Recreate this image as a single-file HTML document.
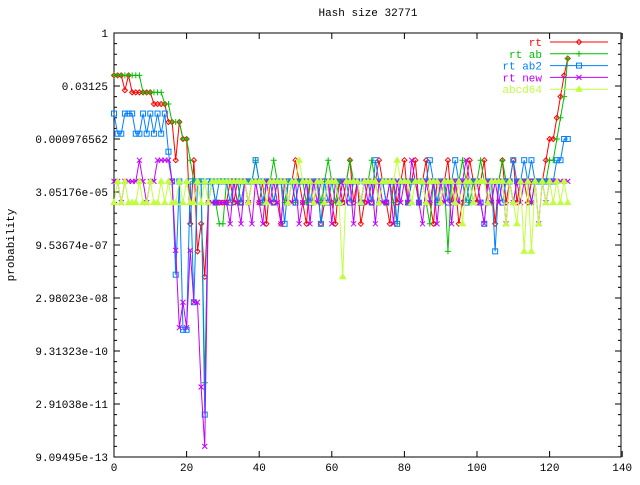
<!DOCTYPE html>
<html><head><meta charset="utf-8"><style>
body{margin:0;background:#fff}
svg text{font-family:"Liberation Mono","DejaVu Sans Mono",monospace;font-size:11px}
</style></head><body>
<svg id="chart" width="640" height="480" xmlns="http://www.w3.org/2000/svg">
<text x="368" y="16" text-anchor="middle">Hash size 32771</text>
<text x="0" y="0" text-anchor="middle" transform="translate(14,245) rotate(-90)">probability</text>
<g id="axes"></g><g id="series"></g><g id="legend"></g>
</svg>
<script>
const xTicks=[0,20,40,60,80,100,120,140];
const yTickExp=[0,-5,-10,-15,-20,-25,-30,-35,-40];
const yTickLabels=["1","0.03125","0.000976562","3.05176e-05","9.53674e-07","2.98023e-08","9.31323e-10","2.91038e-11","9.09495e-13"];
const seriesNames=["rt","rt ab","rt ab2","rt new","abcd64"];
const rtVals=[-4,-4,-4,-5.4,-4,-5.6,-5.6,-5.6,-5.6,-5.6,-5.6,-6.7,-6.7,-6.7,-6.7,-8.4,-8.4,-12,-8.4,-10,-10,-18,-12,-20.6,-18,-23,-16,-14,-16,-16,-16,-16,-14,-16,-14,-16,-14,-16,-14,-14,-16,-14,-18,-14,-16,-14,-18,-14,-16,-14,-12,-14,-16,-18,-14,-16,-14,-18,-16,-14,-16,-18,-14,-16,-14,-12,-16,-14,-18,-16,-14,-16,-14,-12,-14,-16,-18,-14,-16,-14,-12,-16,-14,-12,-16,-14,-12,-16,-18,-14,-16,-14,-12,-16,-14,-18,-16,-14,-12,-14,-16,-14,-12,-16,-14,-18,-14,-12,-16,-14,-12,-16,-14,-14,-16,-14,-14,-14,-14,-12,-10,-10,-8,-6,-4,-2.4];
const rtAbVals=[-4,-4,-4,-4,-4,-4,-4,-4,-5.6,-5.6,-5.6,-5.6,-5.6,-5.6,-6.7,-6.7,-8.4,-8.4,-8.4,-10,-10,-12,-14,-14,-14,-33,-16,-14,-16,-18,-18,-14,-14,-14,-16,-14,-14,-14,-14,-12,-14,-16,-14,-14,-12,-14,-14,-16,-14,-14,-16,-14,-14,-16,-14,-14,-14,-16,-14,-12,-14,-16,-14,-14,-14,-12,-14,-14,-16,-14,-14,-12,-14,-16,-14,-14,-14,-16,-18,-14,-14,-16,-14,-14,-16,-14,-16,-18,-14,-16,-14,-14,-20.6,-14,-16,-14,-12,-14,-16,-14,-14,-12,-14,-14,-16,-14,-14,-12,-14,-14,-16,-14,-14,-14,-14,-16,-14,-14,-14,-14,-12,-12,-10,-8,-6,-2.4];
const rtAb2Vals=[-7.6,-9.5,-9.5,-7.6,-7.6,-7.6,-9.5,-9.5,-7.6,-9.5,-7.6,-9.5,-7.6,-9.5,-7.6,-11.2,-14,-22.8,-14,-28,-28,-14,-25.4,-14,-14,-36,-14,-14,-16,-14,-14,-14,-16,-14,-14,-16,-14,-14,-14,-12,-14,-16,-14,-14,-16,-14,-14,-18,-14,-14,-16,-14,-14,-14,-16,-14,-14,-18,-14,-16,-14,-14,-16,-14,-14,-16,-14,-14,-16,-14,-14,-16,-12,-14,-14,-16,-14,-14,-18,-14,-14,-16,-14,-14,-16,-14,-14,-12,-14,-16,-14,-14,-16,-14,-12,-14,-14,-16,-14,-14,-14,-16,-18,-14,-14,-20.6,-14,-16,-14,-14,-12,-14,-14,-12,-14,-12,-14,-14,-14,-14,-14,-14,-12,-12,-10,-10];
const rtNewVals=[-14,-14,-16,-14,-14,-14,-14,-12,-14,-16,-14,-14,-12,-12,-12,-12,-14,-20.5,-27.8,-25.4,-27.8,-20.5,-25.4,-25.4,-33.4,-39,-16,-16,-16,-16,-16,-16,-18,-14,-16,-18,-14,-16,-18,-14,-16,-18,-14,-16,-14,-16,-18,-14,-16,-16,-14,-18,-16,-14,-18,-14,-16,-14,-16,-14,-18,-14,-16,-14,-16,-14,-18,-14,-16,-14,-16,-14,-18,-14,-16,-16,-14,-18,-14,-16,-14,-16,-12,-14,-16,-18,-14,-16,-14,-18,-14,-16,-14,-18,-14,-16,-14,-12,-14,-16,-14,-16,-18,-14,-16,-14,-16,-14,-18,-14,-16,-14,-16,-14,-14,-16,-14,-18,-14,-16,-14,-14,-14,-14,-14,-14];
const abcd64Vals=[-16,-14,-16,-14,-16,-16,-16,-14,-16,-16,-14,-16,-16,-14,-16,-14,-16,-16,-14,-16,-14,-16,-16,-14,-16,-14,-16,-14,-14,-14,-14,-14,-14,-14,-14,-14,-14,-16,-14,-14,-14,-14,-16,-14,-14,-14,-14,-14,-16,-14,-14,-12,-14,-14,-14,-16,-14,-14,-16,-14,-14,-14,-16,-23,-14,-14,-14,-14,-16,-14,-14,-14,-14,-16,-14,-14,-14,-14,-12,-14,-14,-14,-16,-14,-14,-14,-16,-14,-14,-14,-16,-14,-14,-14,-16,-14,-18,-14,-14,-16,-14,-14,-14,-16,-14,-14,-14,-14,-18,-14,-16,-18,-14,-20.6,-14,-20.6,-14,-18,-14,-16,-14,-16,-14,-16,-14,-16];

const L=114,R=621,T=33,B=457;
const xs=v=>L+v*3.63;
const ys=e=>T+(0-e)*(B-T)/40;
const NS="http://www.w3.org/2000/svg";
function mk(tag,attrs,parent){const el=document.createElementNS(NS,tag);for(const k in attrs)el.setAttribute(k,attrs[k]);parent.appendChild(el);return el;}
const axes=document.getElementById('axes');
const frame=mk('rect',{x:L,y:T,width:R-L,height:B-T,fill:'none',stroke:'#000','stroke-width':1},axes);


xTicks.forEach(v=>{const x=xs(v);
 const t=mk('path',{d:`M${x} ${B}v-6M${x} ${T}v6`,stroke:'#000'},axes);
 
 
 const lb=mk('text',{x:x,y:B+14,'text-anchor':'middle'},axes);lb.textContent=v;
 
 });
for(let e=0;e>=-40;e--){const y=ys(e);const major=e%5===0;const len=major?6:3;
 const t=mk('path',{d:`M${L} ${y}h${len}M${R} ${y}h${-len}`,stroke:'#000'},axes);
 
 }
yTickExp.forEach((e,i)=>{const lb=mk('text',{x:L-6,y:ys(e)+4,'text-anchor':'end'},axes);lb.textContent=yTickLabels[i];
 
 });
const colors=['#ff0000','#00c000','#0080ff','#c000ff','#c0ff40'];
const all=[rtVals,rtAbVals,rtAb2Vals,rtNewVals,abcd64Vals];
function marker(k,x,y,g){const c=colors[k];let el;
 if(k===0)el=mk('path',{d:`M${x} ${y-2.5}L${x+2.5} ${y}L${x} ${y+2.5}L${x-2.5} ${y}Z`,fill:'none',stroke:c},g);
 else if(k===1)el=mk('path',{d:`M${x-3} ${y}h6M${x} ${y-3}v6`,stroke:c},g);
 else if(k===2)el=mk('rect',{x:x-2.5,y:y-2.5,width:5,height:5,fill:'none',stroke:c},g);
 else if(k===3)el=mk('path',{d:`M${x-2.5} ${y-2.5}l5 5M${x+2.5} ${y-2.5}l-5 5`,stroke:c},g);
 else el=mk('path',{d:`M${x} ${y-3}L${x+3} ${y+2}L${x-3} ${y+2}Z`,fill:c,stroke:c},g);
 return el;}
const sg=document.getElementById('series');
all.forEach((vals,k)=>{const g=mk('g',{},sg);
 
 
 const d=vals.map((v,i)=>(i?'L':'M')+xs(i)+' '+ys(v)).join('');
 const p=mk('path',{d:d,fill:'none',stroke:colors[k],'stroke-width':1},g);
 
 
 vals.forEach((v,i)=>{const m=marker(k,xs(i),ys(v),g);
  
  });});
const lg=document.getElementById('legend');
seriesNames.forEach((n,k)=>{const y=42+k*11.8;const g=mk('g',{},lg);
 
 
 const t=mk('text',{x:542,y:y+4,'text-anchor':'end',fill:colors[k]},g);t.textContent=n;
 mk('path',{d:`M550 ${y}h58`,stroke:colors[k]},g);
 marker(k,579,y,g);});
</script>
</body></html>
